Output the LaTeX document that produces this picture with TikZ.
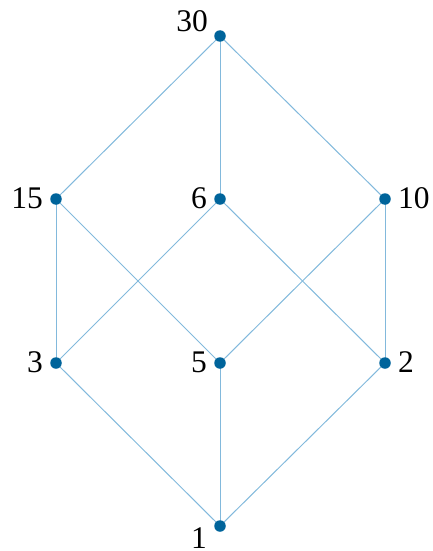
\documentclass[tikz,border=0pt]{standalone}
\usepackage{fontspec}
\setmainfont{Liberation Serif}
\definecolor{edgeblue}{RGB}{130,185,220}
\definecolor{dotblue}{RGB}{0,100,155}
\begin{document}
\begin{tikzpicture}[x=1pt,y=-1pt,
  dot/.style={circle,fill=dotblue,inner sep=0pt,minimum size=11.5pt},
  edge/.style={draw=edgeblue,line width=1pt},
  lab/.style={font=\fontsize{31.5}{34}\selectfont,inner sep=0pt}]
\useasboundingbox (0,0) rectangle (432,551);
\coordinate (p30) at (220,36);
\coordinate (p15) at (56,199);
\coordinate (p6) at (220,199);
\coordinate (p10) at (385,199);
\coordinate (p3) at (56,363);
\coordinate (p5) at (220,363);
\coordinate (p2) at (385,363);
\coordinate (p1) at (220,526);
\foreach \a/\b in {p30/p15,p30/p6,p30/p10,p15/p3,p15/p5,p6/p3,p6/p2,p10/p5,p10/p2,p3/p1,p5/p1,p2/p1}
  \draw[edge] (\a) -- (\b);
\foreach \p in {p30,p15,p6,p10,p3,p5,p2,p1}
  \node[dot] (n\p) at (\p) {};
\node[lab,anchor=base east] (l30) at ([xshift=-12pt,yshift=4pt]p30) {30};
\node[lab,anchor=base east] (l15) at ([xshift=-13pt,yshift=-9pt]p15) {15};
\node[lab,anchor=base east] (l6) at ([xshift=-13pt,yshift=-9pt]p6) {6};
\node[lab,anchor=base west] (l10) at ([xshift=13pt,yshift=-9pt]p10) {10};
\node[lab,anchor=base east] (l3) at ([xshift=-13pt,yshift=-9pt]p3) {3};
\node[lab,anchor=base east] (l5) at ([xshift=-13pt,yshift=-9pt]p5) {5};
\node[lab,anchor=base west] (l2) at ([xshift=13pt,yshift=-9pt]p2) {2};
\node[lab,anchor=base east] (l1) at ([xshift=-13pt,yshift=-22pt]p1) {1};
\end{tikzpicture}
\end{document}
